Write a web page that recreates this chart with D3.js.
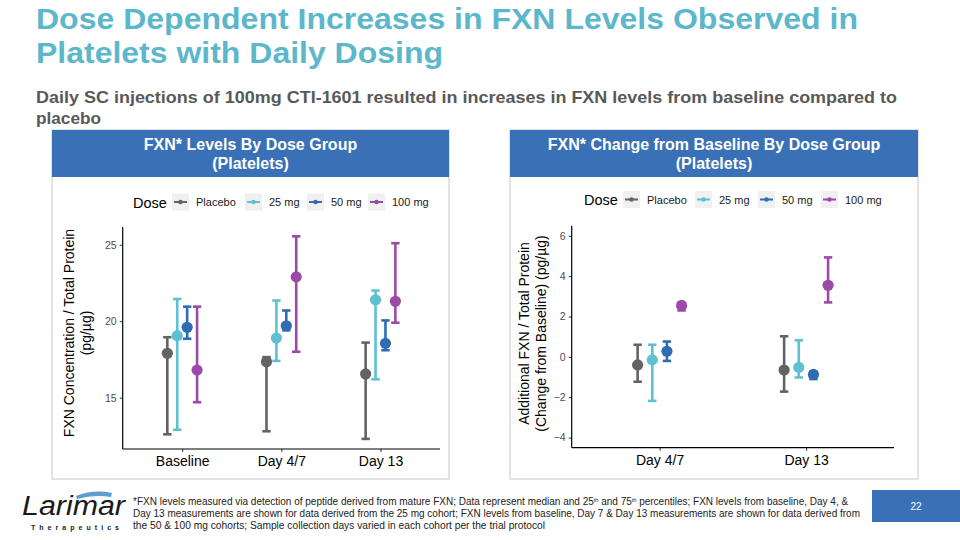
<!DOCTYPE html>
<html><head><meta charset="utf-8">
<script src="https://cdn.jsdelivr.net/npm/d3@7"></script>
<style>
body{margin:0;background:#fff;}
svg{display:block;font-family:"Liberation Sans",Arial,sans-serif;}
</style></head>
<body><svg id="c" width="960" height="540"></svg>
<script>
// ---- data ----
const doses = ["Placebo","25 mg","50 mg","100 mg"];
const doseColors = ["#636363","#5ec0d3","#2f6db3","#9b4aa8"];
const levelDays = ["Baseline","Day 4/7","Day 13"];
const levelMedian = {"Placebo":[17.9,17.35,16.55],"25 mg":[19.05,18.9,21.4],"50 mg":[19.6,19.7,18.55],"100 mg":[16.8,22.9,21.3]};
const levelQ1     = {"Placebo":[12.6,12.8,12.3],"25 mg":[12.9,17.4,16.2],"50 mg":[18.85,19.4,18.1],"100 mg":[14.7,18.0,19.9]};
const levelQ3     = {"Placebo":[18.95,17.65,18.6],"25 mg":[21.45,21.35,22.0],"50 mg":[20.95,20.7,20.05],"100 mg":[20.95,25.55,25.1]};
const levelTicks = [15,20,25];
const changeDays = ["Day 4/7","Day 13"];
const changeMedian = {"Placebo":[-0.4,-0.65],"25 mg":[-0.15,-0.52],"50 mg":[0.28,-0.87],"100 mg":[2.55,3.55]};
const changeQ1     = {"Placebo":[-1.23,-1.72],"25 mg":[-2.18,-1.02],"50 mg":[-0.2,-1.1],"100 mg":[2.3,2.7]};
const changeQ3     = {"Placebo":[0.6,1.02],"25 mg":[0.6,0.82],"50 mg":[0.76,-0.74],"100 mg":[2.68,4.93]};
const changeTicks = [-4,-2,0,2,4,6];

const svg = d3.select("#c");
const HEADER = "#3a71b6";

// ---- titles ----
const t = svg.append("text").attr("fill","#5cb7cb").attr("font-weight","bold").attr("font-size",29);
t.append("tspan").attr("x",36).attr("y",29).attr("textLength",822).attr("lengthAdjust","spacingAndGlyphs")
  .text("Dose Dependent Increases in FXN Levels Observed in");
t.append("tspan").attr("x",36).attr("y",63).attr("textLength",407).attr("lengthAdjust","spacingAndGlyphs")
  .text("Platelets with Daily Dosing");
const st = svg.append("text").attr("fill","#595959").attr("font-weight","bold").attr("font-size",16.5);
st.append("tspan").attr("x",36).attr("y",103).attr("textLength",861).attr("lengthAdjust","spacingAndGlyphs")
  .text("Daily SC injections of 100mg CTI-1601 resulted in increases in FXN levels from baseline compared to");
st.append("tspan").attr("x",36).attr("y",124).attr("textLength",65).attr("lengthAdjust","spacingAndGlyphs").text("placebo");

function panel(cfg){
  const g = svg.append("g");
  g.append("rect").attr("x",cfg.px).attr("y",130).attr("width",cfg.pw).attr("height",349)
    .attr("fill","#fff").attr("stroke","#d0d0d0").attr("stroke-width",1.2);
  g.append("rect").attr("x",cfg.px).attr("y",130).attr("width",cfg.pw).attr("height",47).attr("fill",HEADER);
  const ht = g.append("text").attr("text-anchor","middle").attr("fill","#fff").attr("font-weight","bold").attr("font-size",16);
  ht.append("tspan").attr("x",cfg.px+cfg.pw/2).attr("y",150).text(cfg.title);
  ht.append("tspan").attr("x",cfg.px+cfg.pw/2).attr("y",169).text("(Platelets)");

  // legend
  const lg = g.append("g");
  lg.append("text").attr("x",cfg.leg.dose).attr("y",cfg.leg.y+5.5).attr("font-size",14.5).attr("fill","#000").text("Dose");
  doses.forEach((d,i)=>{
    const kx = cfg.leg.keys[i];
    lg.append("rect").attr("x",kx).attr("y",cfg.leg.y-8.5).attr("width",17).attr("height",17).attr("fill","#f0f0f0");
    lg.append("line").attr("x1",kx+2).attr("x2",kx+15).attr("y1",cfg.leg.y).attr("y2",cfg.leg.y)
      .attr("stroke",doseColors[i]).attr("stroke-width",2);
    lg.append("circle").attr("cx",kx+8.5).attr("cy",cfg.leg.y).attr("r",2.3).attr("fill",doseColors[i]);
    lg.append("text").attr("x",kx+24).attr("y",cfg.leg.y+4).attr("font-size",11).attr("fill","#1a1a1a").text(d);
  });

  // scales
  const x = d3.scalePoint().domain(cfg.days).range([cfg.x0,cfg.x1]).padding(0.6);
  const y = d3.scaleLinear().domain(cfg.ydom).range([cfg.y1,cfg.y0]);
  const step = x.step();
  const off = i => (i-1.5)*0.1*step;

  // axes
  const ya = g.append("g").attr("transform",`translate(${cfg.x0},0)`)
    .call(d3.axisLeft(y).tickValues(cfg.ticks).tickSize(3).tickPadding(3));
  ya.select(".domain").remove();
  ya.selectAll(".tick line").attr("stroke","#333");
  ya.selectAll(".tick text").attr("font-size",10.5).attr("fill","#4d4d4d").attr("font-family","Liberation Sans,Arial,sans-serif");
  g.append("line").attr("x1",cfg.x0).attr("x2",cfg.x0).attr("y1",cfg.y0).attr("y2",cfg.y1).attr("stroke","#000").attr("stroke-width",1.2);
  const xa = g.append("g").attr("transform",`translate(0,${cfg.y1})`)
    .call(d3.axisBottom(x).tickSize(3).tickPadding(4));
  xa.select(".domain").remove();
  xa.selectAll(".tick line").attr("stroke","#333");
  xa.selectAll(".tick text").attr("font-size",14).attr("fill","#000").attr("font-family","Liberation Sans,Arial,sans-serif");
  g.append("line").attr("x1",cfg.x0).attr("x2",cfg.x1).attr("y1",cfg.y1).attr("y2",cfg.y1).attr("stroke","#000").attr("stroke-width",1.2);

  // y title
  const yt = g.append("text").attr("transform",`translate(${cfg.ytx},${cfg.ytc}) rotate(-90)`)
    .attr("text-anchor","middle").attr("font-size",14).attr("fill","#000");
  yt.append("tspan").attr("x",0).attr("y",0).text(cfg.ytitle[0]);
  yt.append("tspan").attr("x",0).attr("y",16.5).text(cfg.ytitle[1]);

  // marks
  doses.forEach((d,i)=>{
    const col = doseColors[i];
    cfg.days.forEach((day,j)=>{
      const cx = x(day)+off(i);
      const lo = cfg.q1[d][j], hi = cfg.q3[d][j], md = cfg.med[d][j];
      const mg = g.append("g");
      mg.append("line").attr("x1",cx).attr("x2",cx).attr("y1",y(lo)).attr("y2",y(hi)).attr("stroke",col).attr("stroke-width",2.6);
      [lo,hi].forEach(v=>mg.append("line").attr("x1",cx-4.2).attr("x2",cx+4.2).attr("y1",y(v)).attr("y2",y(v)).attr("stroke",col).attr("stroke-width",2.6));
      mg.append("circle").attr("cx",cx).attr("cy",y(md)).attr("r",5.6).attr("fill",col);
    });
  });
}

panel({px:52,pw:397,title:"FXN* Levels By Dose Group",
  leg:{y:202,dose:133,keys:[172,245,307,368]},
  days:levelDays,ydom:[11.64,26.16],ticks:levelTicks,
  x0:122.7,x1:440,y0:227,y1:449,ytx:74,ytc:333,
  ytitle:["FXN Concentration / Total Protein","(pg/µg)"],
  med:levelMedian,q1:levelQ1,q3:levelQ3});

panel({px:510,pw:408,title:"FXN* Change from Baseline By Dose Group",
  leg:{y:199.5,dose:584,keys:[623,695,758,821]},
  days:changeDays,ydom:[-4.5,6.5],ticks:changeTicks,
  x0:571.7,x1:894,y0:225.7,y1:447.7,ytx:529,ytc:333.5,
  ytitle:["Additional FXN / Total Protein","(Change from Baseline) (pg/µg)"],
  med:changeMedian,q1:changeQ1,q3:changeQ3});

// ---- footer ----
const logo = svg.append("g");
logo.append("path").attr("d","M76,496 Q94,489 112,493 L111,497 Q94,494 77,499 Z").attr("fill","#5a9fd0");
logo.append("text").attr("x",22).attr("y",515).attr("font-size",27).attr("font-style","italic")
  .attr("fill","#1a1a1a").attr("textLength",103).attr("lengthAdjust","spacingAndGlyphs").text("Larimar");
logo.append("text").attr("x",31).attr("y",530).attr("font-size",7).attr("font-weight","bold")
  .attr("fill","#1a1a1a").attr("textLength",88).attr("lengthAdjust","spacing").text("Therapeutics");

const fn = svg.append("text").attr("font-size",10).attr("fill","#222");
const l1 = fn.append("tspan").attr("x",133).attr("y",505);
l1.append("tspan").text("*FXN levels measured via detection of peptide derived from mature FXN; Data represent median and 25");
l1.append("tspan").attr("font-size",5.5).attr("dy",-3.5).text("th");
l1.append("tspan").attr("dy",3.5).text(" and 75");
l1.append("tspan").attr("font-size",5.5).attr("dy",-3.5).text("th");
l1.append("tspan").attr("dy",3.5).text(" percentiles; FXN levels from baseline, Day 4, &");
fn.append("tspan").attr("x",133).attr("y",517).attr("textLength",727).attr("lengthAdjust","spacingAndGlyphs")
  .text("Day 13 measurements are shown for data derived from the 25 mg cohort; FXN levels from baseline, Day 7 & Day 13 measurements are shown for data derived from");
fn.append("tspan").attr("x",133).attr("y",529).attr("textLength",412).attr("lengthAdjust","spacingAndGlyphs")
  .text("the 50 & 100 mg cohorts; Sample collection days varied in each cohort per the trial protocol");

svg.append("rect").attr("x",872).attr("y",490).attr("width",88).attr("height",32).attr("fill",HEADER);
svg.append("text").attr("x",916).attr("y",510).attr("text-anchor","middle").attr("font-size",10).attr("fill","#fff").text("22");
</script></body></html>
